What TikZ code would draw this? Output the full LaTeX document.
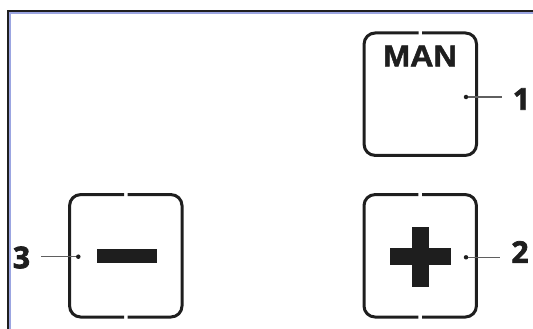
\documentclass[tikz,border=0pt]{standalone}
\usepackage{fontspec}
\setmainfont{Open Sans}
\newfontfamily\numfont{Open Sans}
\newfontfamily\keyfont{Liberation Sans}
\definecolor{ink}{RGB}{30, 30, 30}
\definecolor{rim}{RGB}{155, 165, 225}
\definecolor{leader}{RGB}{95, 95, 95}
\usetikzlibrary{positioning}

\begin{document}
\begin{tikzpicture}[x=1pt, y=-1pt,
        every node/.style={align=center},
        keybox/.style={rectangle, inner sep=0pt, minimum width=112pt, minimum height=122pt},
        keyline/.style={draw=ink, line width=3pt, rounded corners=11pt},
        bar/.style={rectangle, fill=ink, inner sep=0pt},
        dot/.style={circle, fill=ink, inner sep=0pt, minimum size=4.5pt},
        lead/.style={draw=leader, line width=1.3pt},
        num/.style={font=\numfont\bfseries\addfontfeatures{FakeBold=2.5}\fontsize{30}{30}\selectfont, text=ink, inner ysep=0pt, inner xsep=11pt}
    ]
        \useasboundingbox (0,0) rectangle (533,329);

        % Rahmen
        \draw[ink, line width=2pt] (7.5,329) -- (7.5,11) -- (533,11);
        \draw[rim, line width=2pt] (9.5,329) -- (9.5,13) -- (533,13);

        % Tasten
        \node[keybox] (man)   at (420.3, 94.2) {};
        \node[keybox] (plus)  at (420.2, 255.8) {};
        \node[keybox] (minus) at (125.8, 255.8) {};

        \draw[keyline] ([xshift=1.8pt]man.north) -| (man.south east) -| (man.north west) -- ([xshift=-1.8pt]man.north);
        \draw[keyline] ([xshift=1.8pt]plus.north) -| (plus.east) |- ([xshift=1.8pt]plus.south);
        \draw[keyline] ([xshift=-1.8pt]plus.south) -| (plus.west) |- ([xshift=-1.8pt]plus.north);
        \draw[keyline] ([xshift=1.8pt]minus.north) -| (minus.east) |- ([xshift=1.8pt]minus.south);
        \draw[keyline] ([xshift=-1.8pt]minus.south) -| (minus.west) |- ([xshift=-1.8pt]minus.north);

        % Symbole
        \node[font=\keyfont\bfseries\addfontfeatures{FakeBold=1.5}\fontsize{30}{30}\selectfont, text=ink, inner sep=0pt] (mantxt) at (420, 56) {\scalebox{1.08}[1]{MAN}};
        \node[bar, minimum width=61pt, minimum height=17pt] (plush) at (420.5, 256.7) {};
        \node[bar, minimum width=17.6pt, minimum height=60.6pt] (plusv) at (420.5, 257) {};
        \node[bar, minimum width=60pt, minimum height=14pt] (minusbar) at (126.7, 256.3) {};

        % Bezugslinien
        \node[dot] (d1) at (466, 97) {};
        \node[dot] (d2) at (466, 257.3) {};
        \node[dot] (d3) at (78.3, 256.7) {};
        \node[num] (n1) at (521.5, 99) {1};
        \node[num] (n2) at (520, 252) {2};
        \node[num] (n3) at (21.5, 257.5) {3};

        \draw[lead] (d1) -- (d1 -| n1.west);
        \draw[lead] (d2) -- (d2 -| n2.west);
        \draw[lead] (d3) -- (d3 -| n3.east);
    \end{tikzpicture}
\end{document}
